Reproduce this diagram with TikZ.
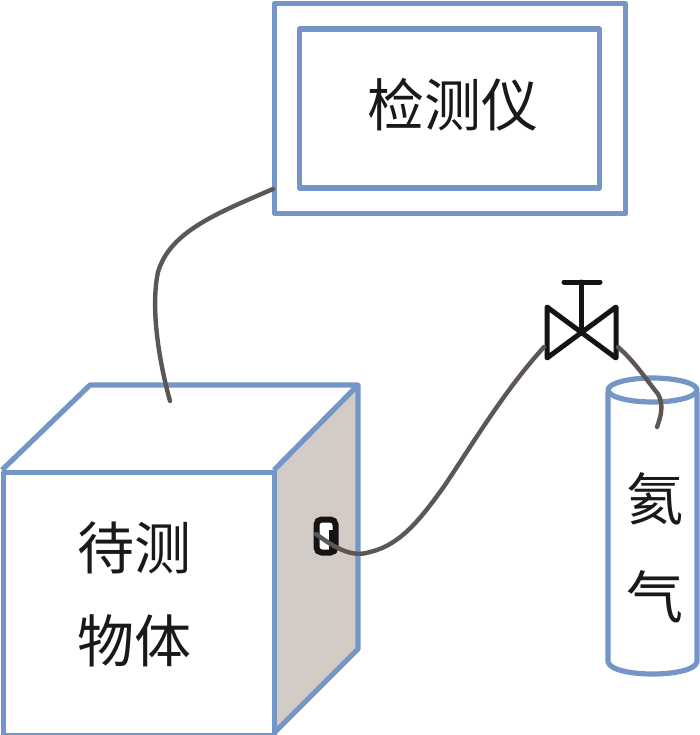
\documentclass[tikz,border=0pt]{standalone}
\usepackage{fontspec}
\newfontfamily\cjk{Noto Sans CJK SC}[Scale=1]
\definecolor{edgeblue}{HTML}{7396C6}
\definecolor{sidegray}{HTML}{D3CBC6}
\definecolor{pipegray}{HTML}{5C5654}
\definecolor{valveblack}{HTML}{141414}
\tikzset{
  blueline/.style={draw=edgeblue,line width=5.2pt,line join=round},
  pipe/.style={draw=pipegray,line width=4.4pt,line cap=round},
  valveline/.style={draw=valveblack,line width=5pt,line join=round,line cap=round},
  label/.style={font=\cjk\fontsize{57}{60}\selectfont,text=black!90,inner sep=0pt,align=center},
  boxnode/.style={blueline,inner sep=0pt,anchor=north west}
}
\begin{document}
\begin{tikzpicture}[x=1pt,y=-1pt]
\useasboundingbox (0,0) rectangle (700,735);
% instrument
\node[boxnode,minimum width=351pt,minimum height=210pt] (outer) at (272,1) {};
\node[boxnode,minimum width=300pt,minimum height=159pt] (inner) at (297,26.5) {};
\node[label] (instr) at (453,105) {检测仪};
% cube
\fill[sidegray] (274,470) -- (358,385) -- (358,649) -- (274,733) -- cycle;
\draw[blueline] (2,470) -- (90,385) -- (358,385) -- (274,470);
\draw[blueline] (358,385) -- (358,649) -- (274,733);
\node[boxnode,minimum width=271pt,minimum height=263pt] (front) at (1,470) {};
\node[label] (obj1) at (134,548) {待测};
\node[label] (obj2) at (134,641) {物体};
% port
\node[draw=valveblack,line width=6pt,fill=white,rounded corners=5pt,minimum width=19pt,minimum height=33pt,inner sep=0pt] (port) at (326,536) {};
\draw[draw=valveblack,line width=4pt] (331,530) -- (331,550);
% cylinder
\coordinate (cylL) at (608,392);
\coordinate (cylR) at (697,392);
\draw[blueline] (cylL) -- (608,662) .. controls (612,678) and (693,678) .. (697,662) -- (cylR);
\draw[blueline] (652.5,390) ellipse[x radius=44.5pt,y radius=12pt];
\node[label] (gas1) at (655,499) {氦};
\node[label] (gas2) at (655,597) {气};
% valve
\coordinate (vc) at (581,331);
\draw[valveline] (547,307) -- (616,358) -- (616,307) -- (547,358) -- cycle;
\draw[valveline] (vc) -- (581,282);
\draw[valveline] (564,282) -- (600,282);
% pipes
\draw[pipe] (273,189) .. controls (215,214) and (170,232) .. (158,272) .. controls (150,310) and (160,365) .. (170,401);
\draw[pipe] (316,534) .. controls (335,548) and (352,558) .. (370,552) .. controls (400,545) and (420,520) .. (445,485) .. controls (475,440) and (505,390) .. (544,347);
\draw[pipe] (618,347) .. controls (635,362) and (645,378) .. (658,394) .. controls (664,405) and (661,416) .. (657,427);
\end{tikzpicture}
\end{document}
